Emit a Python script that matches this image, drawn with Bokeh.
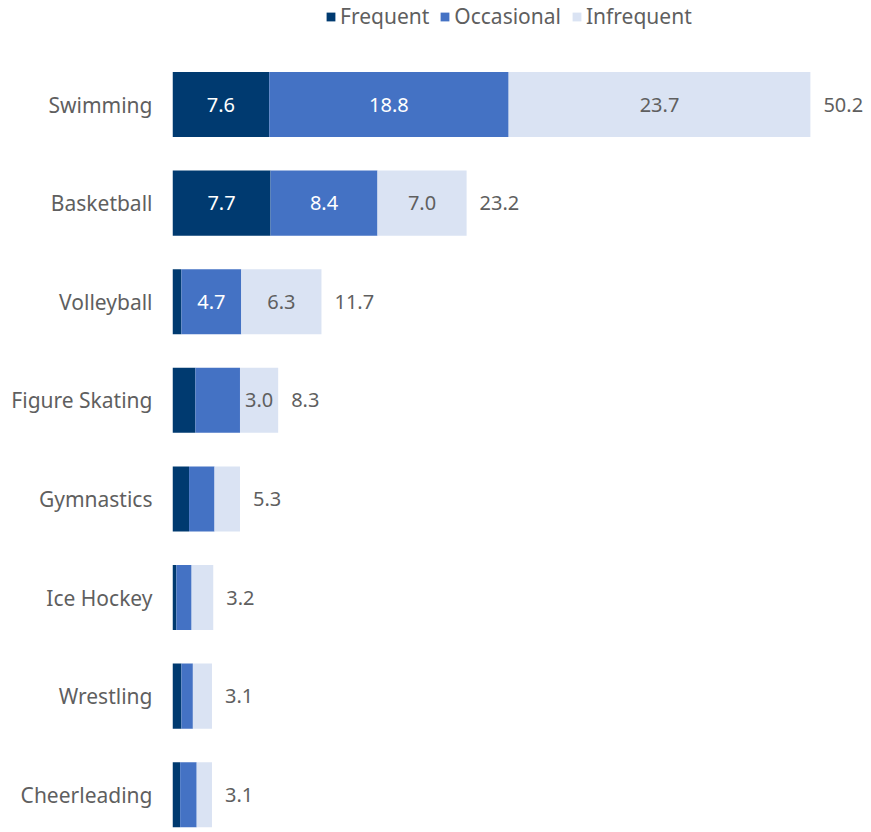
from bokeh.plotting import figure
from bokeh.models import ColumnDataSource, Legend, LegendItem, Range1d, FixedTicker
from bokeh.core.properties import value
from bokeh.embed import file_html
from bokeh.resources import INLINE

sports = ["Swimming", "Basketball", "Volleyball", "Figure Skating", "Gymnastics",
          "Ice Hockey", "Wrestling", "Cheerleading"]
frequent = [7.6, 7.7, 0.7, 1.8, 1.3, 0.3, 0.7, 0.6]
occasional = [18.8, 8.4, 4.7, 3.5, 2.0, 1.2, 0.9, 1.3]
infrequent = [23.7, 7.0, 6.3, 3.0, 2.0, 1.7, 1.5, 1.2]
totals = [50.2, 23.2, 11.7, 8.3, 5.3, 3.2, 3.1, 3.1]
freq_labels = ["7.6", "7.7", "", "", "", "", "", ""]
occ_labels = ["18.8", "8.4", "4.7", "", "", "", "", ""]
inf_labels = ["23.7", "7.0", "6.3", "3.0", "", "", "", ""]
series = ["Frequent", "Occasional", "Infrequent"]

colors = ["#003a70", "#4472c4", "#dae3f3"]
FONT = "Noto Sans"
GREY = "#5f5f5f"
FS = "20px"
FS_CAT = "21px"

pos = list(range(len(sports)))
end_f = frequent
end_o = [f + o for f, o in zip(frequent, occasional)]
end_i = [e + i for e, i in zip(end_o, infrequent)]

src = ColumnDataSource(dict(
    pos=pos, Frequent=frequent, Occasional=occasional, Infrequent=infrequent,
    mid_f=[f / 2 for f in frequent],
    mid_o=[f + o / 2 for f, o in zip(end_f, occasional)],
    mid_i=[e + i / 2 for e, i in zip(end_o, infrequent)],
    end=end_i, total=[f"{t:.1f}" for t in totals],
    lf=freq_labels, lo=occ_labels, li=inf_labels,
))

p = figure(width=871, height=832, output_backend="svg", toolbar_location=None,
           y_range=Range1d(7.383, -1.055),
           x_range=Range1d(0, 54.9),
           min_border_left=172, min_border_right=0, min_border_top=0, min_border_bottom=0)

rs = p.hbar_stack(series, y="pos", height=0.66, color=colors, source=src, line_width=0)

common = dict(text_font=value(FONT), text_font_size=FS, text_baseline="middle", source=src)
p.text(x="mid_f", y="pos", text="lf", text_align="center", text_color="white", **common)
p.text(x="mid_o", y="pos", text="lo", text_align="center", text_color="white", **common)
p.text(x="mid_i", y="pos", text="li", text_align="center", text_color=GREY, **common)
p.text(x="end", y="pos", text="total", text_align="left", x_offset=13, text_color=GREY, **common)

p.xaxis.visible = False
p.xgrid.visible = False
p.ygrid.visible = False
p.outline_line_color = None
ax = p.yaxis[0]
ax.ticker = FixedTicker(ticks=pos)
ax.major_label_overrides = {i: s for i, s in zip(pos, sports)}
ax.axis_line_color = None
ax.major_tick_line_color = None
ax.minor_tick_line_color = None
ax.major_label_text_font = FONT
ax.major_label_text_font_size = FS_CAT
ax.major_label_text_color = GREY
ax.major_label_standoff = 14

legend = Legend(items=[LegendItem(label=s, renderers=[r]) for s, r in zip(series, rs)],
                orientation="horizontal", location=(153, 802),
                border_line_color=None, background_fill_alpha=0,
                label_text_font=FONT, label_text_font_size=FS_CAT, label_text_color=GREY,
                glyph_width=11, glyph_height=11, label_standoff=4, spacing=10,
                padding=0, margin=0)
p.add_layout(legend, "center")

open("out.html", "w").write(file_html(p, INLINE))
